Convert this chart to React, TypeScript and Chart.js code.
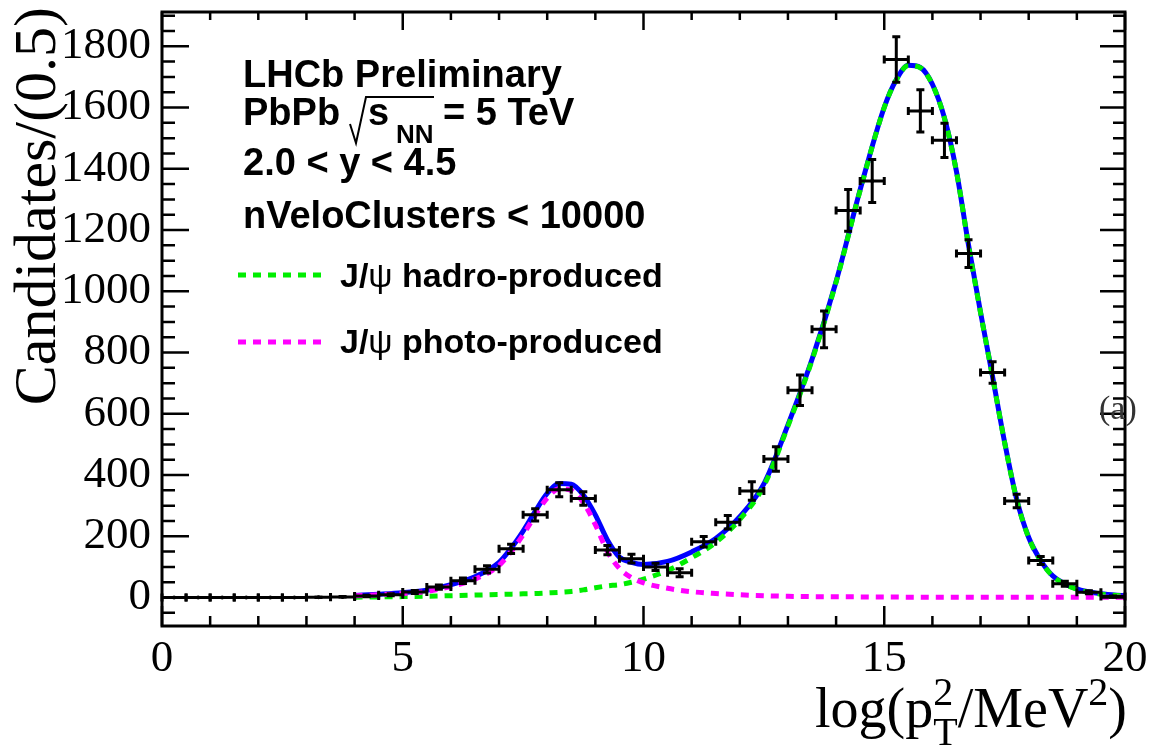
import React, { useEffect, useRef } from 'react';
import { Chart, registerables } from 'chart.js';
Chart.register(...registerables);

// ---------- data ----------
const binCenters = [0.25, 0.75, 1.25, 1.75, 2.25, 2.75, 3.25, 3.75, 4.25, 4.75, 5.25, 5.75, 6.25, 6.75, 7.25, 7.75, 8.25, 8.75, 9.25, 9.75, 10.25, 10.75, 11.25, 11.75, 12.25, 12.75, 13.25, 13.75, 14.25, 14.75, 15.25, 15.75, 16.25, 16.75, 17.25, 17.75, 18.25, 18.75, 19.25, 19.75];
const counts = [0, 0, 0, 0, 0, 0, 1, 2, 5, 9, 18, 34, 55, 92, 159, 270, 352, 323, 155, 127, 100, 81, 182, 246, 348, 452, 677, 876, 1264, 1360, 1757, 1589, 1493, 1123, 735, 315, 121, 45, 17, 3];
const countErrors = [0, 0, 0, 0, 0, 0, 1, 1.5, 2.5, 3, 5, 7, 9, 12, 15, 20, 23, 22, 15, 14, 12, 13, 17, 22, 30, 40, 50, 60, 68, 70, 74, 69, 56, 45, 35, 22, 13, 8, 5, 2];
const binHalfWidth = 0.25;

const curveX = [4, 4.5, 5, 5.5, 6, 6.5, 7, 7.25, 7.5, 7.75, 8, 8.25, 8.5, 8.75, 9, 9.25, 9.5, 9.75, 10, 10.5, 11, 11.5, 12, 12.5, 13, 13.5, 14, 14.5, 15, 15.25, 15.5, 15.75, 16, 16.25, 16.5, 16.75, 17, 17.25, 17.5, 17.75, 18, 18.25, 18.5, 19, 19.5, 20];
const totalFit = [7, 11, 16, 24, 42, 68, 115, 161, 217, 281, 340, 372, 370, 335, 270, 188, 132, 115, 108, 118, 149, 193, 264, 371, 564, 778, 1032, 1332, 1601, 1691, 1738, 1731, 1676, 1566, 1391, 1151, 931, 721, 507, 321, 196, 121, 71, 28, 12, 6];
const hadroCurve = [1, 2, 3, 4, 6, 8, 10, 11, 12, 13, 15, 17, 20, 25, 32, 38, 42, 50, 60, 88, 130, 180, 255, 365, 560, 775, 1030, 1330, 1600, 1690, 1737, 1730, 1675, 1565, 1390, 1150, 930, 720, 506, 320, 195, 120, 70, 27, 11, 5];
const photoCurve = [6, 9, 13, 20, 36, 60, 105, 150, 205, 268, 325, 355, 350, 310, 238, 150, 95, 65, 48, 30, 19, 13, 9, 6, 4, 3, 2.5, 2, 1.5, 1.5, 1.2, 1.2, 1, 1, 1, 1, 0.8, 0.8, 0.8, 0.7, 0.7, 0.6, 0.6, 0.5, 0.5, 0.5];

const xMajorTicks = [0, 5, 10, 15, 20];
const xMinorTicks = [0, 1, 2, 3, 4, 5, 6, 7, 8, 9, 10, 11, 12, 13, 14, 15, 16, 17, 18, 19, 20];
const yMajorTicks = [0, 200, 400, 600, 800, 1000, 1200, 1400, 1600, 1800];
const yMinorTicks = [-50, 0, 50, 100, 150, 200, 250, 300, 350, 400, 450, 500, 550, 600, 650, 700, 750, 800, 850, 900, 950, 1000, 1050, 1100, 1150, 1200, 1250, 1300, 1350, 1400, 1450, 1500, 1550, 1600, 1650, 1700, 1750, 1800, 1850, 1900];

const X_MIN = 0, X_MAX = 20, Y_MIN = -93, Y_MAX = 1912;

const SERIF = '"Liberation Serif", "Times New Roman", serif';
const SANS = '"Liberation Sans", Arial, sans-serif';

const pts = (xs: number[], ys: number[]) => xs.map((x, i) => ({ x, y: ys[i] }));

const overlayPlugin = {
  id: 'overlay',
  afterDatasetsDraw(chart: any) {
    const { ctx, scales } = chart;
    const xs = scales.x, ys = scales.y;
    ctx.save();
    ctx.strokeStyle = '#000';
    ctx.lineWidth = 3;
    ctx.lineCap = 'butt';
    const cap = 4;
    binCenters.forEach((c, i) => {
      const n = counts[i], e = countErrors[i];
      const px = xs.getPixelForValue(c), py = ys.getPixelForValue(n);
      const x1 = xs.getPixelForValue(c - binHalfWidth), x2 = xs.getPixelForValue(c + binHalfWidth);
      ctx.beginPath();
      ctx.moveTo(x1, py); ctx.lineTo(x2, py);
      ctx.moveTo(x1, py - cap); ctx.lineTo(x1, py + cap);
      ctx.moveTo(x2, py - cap); ctx.lineTo(x2, py + cap);
      if (e > 0) {
        const y1 = ys.getPixelForValue(n + e), y2 = ys.getPixelForValue(n - e);
        ctx.moveTo(px, y1); ctx.lineTo(px, y2);
        ctx.moveTo(px - cap, y1); ctx.lineTo(px + cap, y1);
        ctx.moveTo(px - cap, y2); ctx.lineTo(px + cap, y2);
      }
      ctx.stroke();
    });
    ctx.restore();
  },
  afterDraw(chart: any) {
    const { ctx, chartArea: a, scales } = chart;
    const xs = scales.x, ys = scales.y;
    ctx.save();
    // frame
    ctx.strokeStyle = '#000';
    ctx.lineWidth = 3;
    ctx.strokeRect(a.left, a.top, a.right - a.left, a.bottom - a.top);
    ctx.lineWidth = 2.5;
    ctx.beginPath();
    xMinorTicks.forEach((v) => {
      const px = xs.getPixelForValue(v);
      const major = xMajorTicks.includes(v);
      const lb = major ? 20 : 10;
      const lt = major ? 18 : 8;
      ctx.moveTo(px, a.bottom); ctx.lineTo(px, a.bottom - lb);
      ctx.moveTo(px, a.top); ctx.lineTo(px, a.top + lt);
    });
    yMinorTicks.forEach((v) => {
      const py = ys.getPixelForValue(v);
      const major = yMajorTicks.includes(v);
      const ll = major ? 27 : 13;
      const lr = major ? 25 : 12;
      ctx.moveTo(a.left, py); ctx.lineTo(a.left + ll, py);
      ctx.moveTo(a.right, py); ctx.lineTo(a.right - lr, py);
    });
    ctx.stroke();

    // y title
    ctx.fillStyle = '#000';
    ctx.save();
    ctx.translate(55, 7);
    ctx.rotate(-Math.PI / 2);
    ctx.font = `60px ${SERIF}`;
    ctx.textAlign = 'right';
    ctx.textBaseline = 'alphabetic';
    ctx.fillText('Candidates/(0.5)', 0, 0);
    ctx.restore();

    // x title: log(p_T^2/MeV^2)
    ctx.textAlign = 'left';
    ctx.textBaseline = 'alphabetic';
    const big = `56px ${SERIF}`, small = `40px ${SERIF}`;
    const base = 727;
    ctx.font = big;
    const w1 = ctx.measureText('log(p').width;
    const w3 = ctx.measureText('/MeV').width;
    const w5 = ctx.measureText(')').width;
    ctx.font = small;
    const w2 = Math.max(ctx.measureText('2').width, ctx.measureText('T').width);
    const w4 = ctx.measureText('2').width;
    const total = w1 + w2 + w3 + w4 + w5;
    let x = 1127 - total;
    ctx.font = big; ctx.fillText('log(p', x, base); x += w1;
    ctx.font = small; ctx.fillText('2', x, base - 22); ctx.fillText('T', x, base + 18); x += w2;
    ctx.font = big; ctx.fillText('/MeV', x, base); x += w3;
    ctx.font = small; ctx.fillText('2', x, base - 22); x += w4;
    ctx.font = big; ctx.fillText(')', x, base);

    // (a)
    ctx.font = `34px ${SERIF}`;
    ctx.fillStyle = '#333';
    ctx.fillText('(a)', 1099, 419);

    // text block
    ctx.fillStyle = '#000';
    ctx.font = `bold 38px ${SANS}`;
    ctx.fillText('LHCb Preliminary', 243, 87);
    ctx.fillText('PbPb', 243, 125);
    // radical
    ctx.lineWidth = 2;
    ctx.beginPath();
    ctx.moveTo(350, 124);
    ctx.lineTo(356, 143);
    ctx.lineTo(366, 97);
    ctx.lineTo(434, 97);
    ctx.stroke();
    ctx.fillText('s', 368, 125);
    ctx.font = `bold 26px ${SANS}`;
    ctx.fillText('NN', 396, 143);
    ctx.font = `bold 38px ${SANS}`;
    ctx.fillText('= 5 TeV', 443, 125);
    ctx.fillText('2.0 < y < 4.5', 243, 175);
    ctx.fillText('nVeloClusters < 10000', 243, 228);

    // legend
    ctx.lineWidth = 5;
    ctx.setLineDash([8, 7]);
    ctx.strokeStyle = '#00ee00';
    ctx.beginPath(); ctx.moveTo(238, 275); ctx.lineTo(322, 275); ctx.stroke();
    ctx.strokeStyle = '#ff00ff';
    ctx.beginPath(); ctx.moveTo(238, 342); ctx.lineTo(322, 342); ctx.stroke();
    ctx.setLineDash([]);
    const drawLegendText = (rest: string, lx: number, ly: number) => {
      ctx.font = `bold 34px ${SANS}`;
      ctx.fillText('J/', lx, ly);
      let cx = lx + ctx.measureText('J/').width;
      ctx.font = `34px ${SANS}`;
      ctx.fillText('ψ', cx, ly);
      cx += ctx.measureText('ψ').width;
      ctx.font = `bold 34px ${SANS}`;
      ctx.fillText(rest, cx, ly);
    };
    drawLegendText(' hadro-produced', 340, 287);
    drawLegendText(' photo-produced', 340, 353);
    ctx.restore();
  },
};

export default function App() {
  const ref = useRef<HTMLCanvasElement>(null);
  useEffect(() => {
    if (!ref.current) return;
    const dashed = { showLine: true, pointRadius: 0, borderWidth: 5, borderDash: [8, 7], cubicInterpolationMode: 'monotone' as const };
    const chart = new Chart(ref.current, {
      type: 'scatter',
      data: {
        datasets: [
          {
            label: 'data',
            data: pts(binCenters, counts),
            pointRadius: 2,
            pointBackgroundColor: '#000',
            pointBorderWidth: 0,
            showLine: false,
          },
          { label: 'J/ψ photo-produced', data: pts(curveX, photoCurve), borderColor: '#ff00ff', ...dashed },
          { label: 'J/ψ hadro-produced', data: pts(curveX, hadroCurve), borderColor: '#00ee00', ...dashed },
          {
            label: 'total',
            data: pts(curveX, totalFit),
            showLine: true,
            pointRadius: 0,
            borderColor: '#0000ff',
            borderWidth: 5,
            cubicInterpolationMode: 'monotone',
          },
        ],
      },
      options: {
        animation: false,
        responsive: false,
        maintainAspectRatio: false,
        layout: { padding: { top: 12, right: 30, left: 0, bottom: 0 } },
        plugins: { legend: { display: false }, tooltip: { enabled: false } },
        scales: {
          x: {
            type: 'linear',
            min: X_MIN,
            max: X_MAX,
            grid: { display: false, drawTicks: false },
            border: { display: false },
            afterBuildTicks: (s: any) => { s.ticks = xMajorTicks.map((v) => ({ value: v })); },
            afterFit: (s: any) => { s.height = 130; s.paddingLeft = 0; s.paddingRight = 0; },
            ticks: {
              font: { family: 'Liberation Serif', size: 45 },
              color: '#000',
              padding: 6,
              maxRotation: 0,
              autoSkip: false,
              callback: (v: any) => String(v),
            },
          },
          y: {
            type: 'linear',
            min: Y_MIN,
            max: Y_MAX,
            grid: { display: false, drawTicks: false },
            border: { display: false },
            afterBuildTicks: (s: any) => { s.ticks = yMajorTicks.map((v) => ({ value: v })); },
            afterFit: (s: any) => { s.width = 162; s.paddingTop = 0; s.paddingBottom = 0; },
            ticks: {
              font: { family: 'Liberation Serif', size: 45 },
              color: '#000',
              padding: 11,
              autoSkip: false,
              callback: (v: any) => String(v),
            },
          },
        },
      },
      plugins: [overlayPlugin],
    });
    return () => chart.destroy();
  }, []);
  return (
    <div style={{ position: 'fixed', left: 0, top: 0, width: 1155, height: 756, background: '#fff' }}>
      <canvas ref={ref} width={1155} height={756} style={{ display: 'block' }} />
    </div>
  );
}
